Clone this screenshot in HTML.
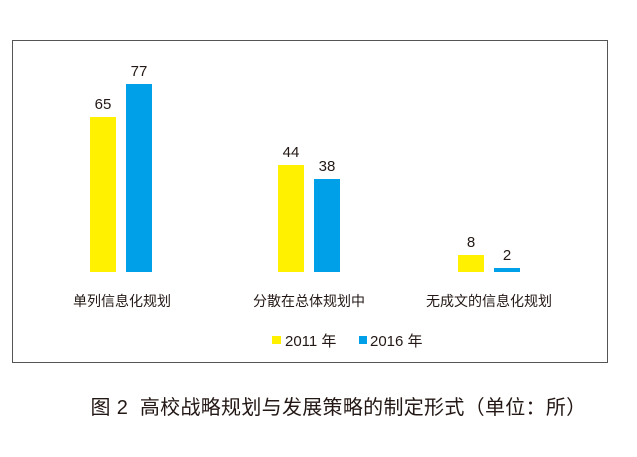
<!DOCTYPE html>
<html><head><meta charset="utf-8"><style>
body{margin:0;width:637px;height:457px;background:#fff;position:relative;overflow:hidden;font-family:"Liberation Sans","Noto Sans CJK SC",sans-serif;color:#231815}
.b{position:absolute}
.y{background:#fff100}.c{background:#00a0e9}
.v{position:absolute;font-size:15px;width:40px;text-align:center}
.l{position:absolute;font-size:14px;width:170px;text-align:center;top:291px}
</style></head><body>
<div class="b" style="left:12px;top:40px;width:594px;height:321px;border:1px solid #555"></div>
<div class="b y" style="left:90px;top:117px;width:26px;height:155px"></div>
<div class="b c" style="left:126px;top:84px;width:26px;height:188px"></div>
<div class="b y" style="left:278px;top:165px;width:26px;height:107px"></div>
<div class="b c" style="left:314px;top:179px;width:26px;height:93px"></div>
<div class="b y" style="left:458px;top:255px;width:26px;height:17px"></div>
<div class="b c" style="left:494px;top:268px;width:26px;height:4px"></div>
<div class="v" style="left:83px;top:96px">65</div>
<div class="v" style="left:119px;top:63px">77</div>
<div class="v" style="left:271px;top:144px">44</div>
<div class="v" style="left:307px;top:158px">38</div>
<div class="v" style="left:451px;top:234px">8</div>
<div class="v" style="left:487px;top:247px">2</div>
<div class="l" style="left:37px">单列信息化规划</div>
<div class="l" style="left:224px">分散在总体规划中</div>
<div class="l" style="left:404px">无成文的信息化规划</div>
<div class="b y" style="left:272px;top:336px;width:9px;height:8px"></div>
<div class="b" style="left:285px;top:330px;font-size:15px">2011 年</div>
<div class="b c" style="left:359px;top:336px;width:8px;height:8px"></div>
<div class="b" style="left:370px;top:330px;font-size:15px">2016 年</div>
<div class="b" style="left:20px;width:637px;text-align:center;top:391px;font-size:20px;letter-spacing:0.3px">图 2&nbsp; 高校战略规划与发展策略的制定形式（单位：所）</div>
</body></html>
